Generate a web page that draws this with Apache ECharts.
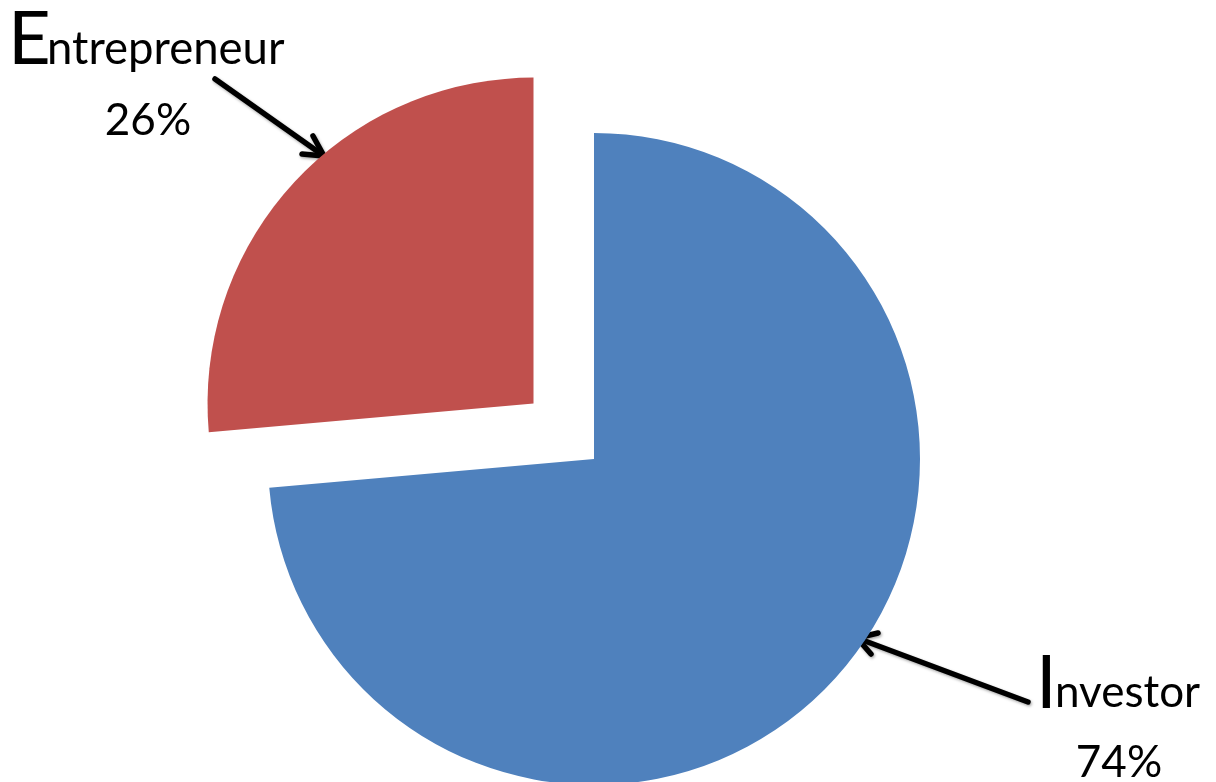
<!DOCTYPE html>
<html>
<head>
<meta charset="utf-8">
<script src="https://cdn.jsdelivr.net/npm/echarts@6/dist/echarts.min.js"></script>
<style>
html,body{margin:0;padding:0;background:#fff;}
#c{width:1216px;height:782px;}
</style>
</head>
<body>
<div id="c"></div>
<script>
var categories = ['Investor', 'Entrepreneur'];
var values = [73.6, 26.4];
var colors = ['#4F81BD', '#C0504D'];
var exploded = [false, true];

var total = values.reduce(function (a, b) { return a + b; }, 0);
function pct(i) { return Math.round(values[i] / total * 100) + '%'; }

var FONT = 'Lato, "Open Sans", sans-serif';

// label placements (annotation layout)
var labelPos = [
  { capX: 1036, capY: 684, restX: 1055, restY: 693, restSize: 44, pctX: 1119, pctY: 763 },
  { capX: 8, capY: 40, restX: 47, restY: 49, restSize: 45.5, pctX: 148, pctY: 121 }
];
var arrows = [
  { line: [[1028, 702], [857, 638]], head: [[878, 633], [857, 638], [871, 654]] },
  { line: [[215, 79], [324, 156]], head: [[313, 136], [324, 156], [302, 154]] }
];

var graphics = [];
categories.forEach(function (name, i) {
  var p = labelPos[i];
  graphics.push({
    type: 'text', x: p.capX, y: p.capY,
    style: { text: name.charAt(0), font: '74px ' + FONT, fill: '#000', verticalAlign: 'middle', align: 'left' }
  });
  graphics.push({
    type: 'text', x: p.restX, y: p.restY,
    style: { text: name.slice(1), font: p.restSize + 'px ' + FONT, fill: '#000', verticalAlign: 'middle', align: 'left' }
  });
  graphics.push({
    type: 'text', x: p.pctX, y: p.pctY,
    style: { text: pct(i), font: '44px ' + FONT, fill: '#000', verticalAlign: 'middle', align: 'center' }
  });
  var a = arrows[i];
  var st = { stroke: '#000', lineWidth: 5.5, lineCap: 'round', lineJoin: 'round', fill: null,
    shadowBlur: 3, shadowColor: 'rgba(0,0,0,0.35)', shadowOffsetX: 1, shadowOffsetY: 1.5 };
  graphics.push({ type: 'polyline', shape: { points: a.line }, style: st });
  graphics.push({ type: 'polyline', shape: { points: a.head }, style: st });
});

var chart = echarts.init(document.getElementById('c'), null, { renderer: 'canvas' });
chart.setOption({
  animation: false,
  backgroundColor: '#fff',
  series: [{
    type: 'pie',
    center: [594, 459],
    radius: 326,
    startAngle: 90,
    clockwise: true,
    selectedMode: 'multiple',
    selectedOffset: 82,
    avoidLabelOverlap: false,
    label: { show: false },
    labelLine: { show: false },
    emphasis: { disabled: true },
    select: { itemStyle: {} },
    data: categories.map(function (n, i) {
      return { name: n, value: values[i], selected: exploded[i], itemStyle: { color: colors[i], borderWidth: 0 } };
    })
  }],
  graphic: graphics
});
</script>
</body>
</html>
